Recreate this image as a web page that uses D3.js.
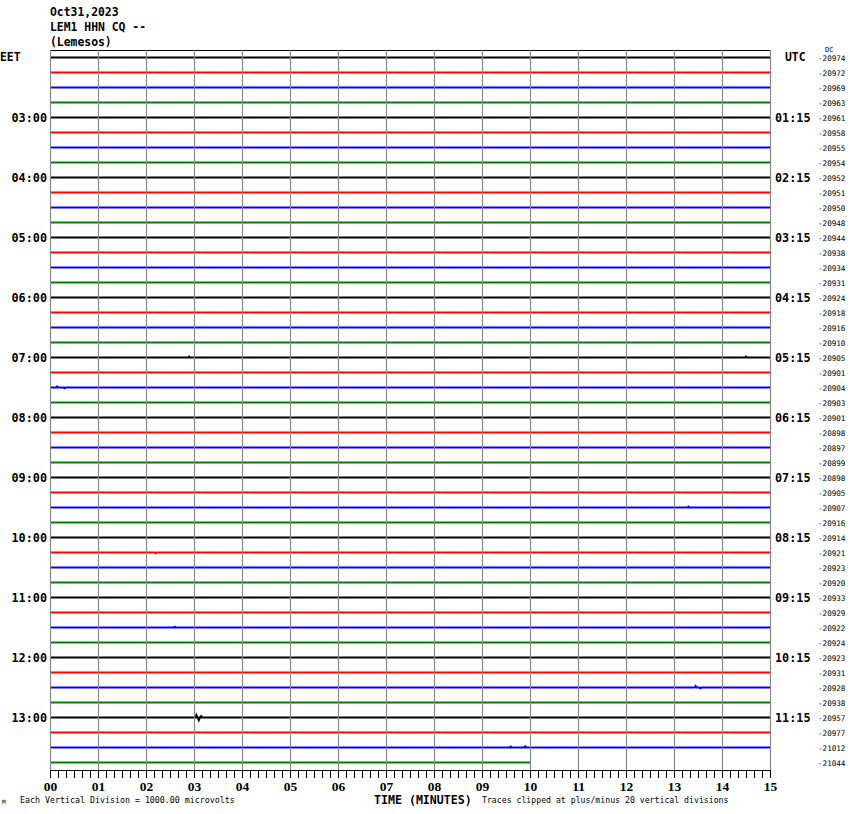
<!DOCTYPE html>
<html>
<head>
<meta charset="utf-8">
<script src="https://cdn.jsdelivr.net/npm/d3@7/dist/d3.min.js"></script>
<style>
  html, body { margin: 0; padding: 0; background: #fff; }
  svg { display: block; }
</style>
</head>
<body>
<script>
// ---------------- DATA ----------------
const headerLines = ["Oct31,2023", "LEM1 HHN CQ --", "(Lemesos)"];
const traceColors = ["#000000", "#ff0000", "#0000ff", "#008000"];
const traceCount = 48;
const lastTraceEndMinute = 10;
const leftHourLabels = ["03:00","04:00","05:00","06:00","07:00","08:00","09:00","10:00","11:00","12:00","13:00"];
const rightHourLabels = ["01:15","02:15","03:15","04:15","05:15","06:15","07:15","08:15","09:15","10:15","11:15"];
const dcValues = [
  -20974,-20972,-20969,-20963,-20961,-20958,-20955,-20954,
  -20952,-20951,-20950,-20948,-20944,-20938,-20934,-20931,
  -20924,-20918,-20916,-20910,-20905,-20901,-20904,-20903,
  -20901,-20898,-20897,-20899,-20898,-20905,-20907,-20916,
  -20914,-20921,-20923,-20920,-20933,-20929,-20922,-20924,
  -20923,-20931,-20928,-20938,-20957,-20977,-21012,-21044
];
const minuteTicks = d3.range(0, 16);
// notable small excursions: [trace, minute, offset in divisions (up +)]
const traceEvents = [
  [22, 0.15, 0.5], [22, 0.3, -0.3],
  [42, 13.45, 0.7], [42, 13.55, -0.4],
  [44, 3.05, 1.1], [44, 3.1, -1.2], [44, 3.15, 0.6],
  [46, 9.6, 0.4], [46, 9.9, 0.5],
  [20, 2.9, 0.4], [20, 14.5, 0.4],
  [30, 13.3, 0.4], [33, 2.2, -0.3], [38, 2.6, 0.3]
];
const bottomLeftNote = "Each Vertical Division = 1000.00 microvolts";
const bottomRightNote = "Traces clipped at plus/minus 20 vertical divisions";
const axisTitle = "TIME (MINUTES)";

// ---------------- CHART ----------------
const W = 850, H = 814;
const svg = d3.select("body").append("svg").attr("width", W).attr("height", H);

const x = d3.scaleLinear().domain([0, 15]).range([50, 770]);
const y = d3.scaleLinear().domain([0, traceCount - 1]).range([57.5, 762.5]);
const amp = d3.scaleLinear().domain([-1, 1]).range([2, -2]);

const mono = "'DejaVu Sans Mono', monospace";

// header
svg.append("g").selectAll("text").data(headerLines).join("text")
  .attr("x", 50).attr("y", (d, i) => 16 + i * 15)
  .attr("font-family", mono).attr("font-weight", "bold").attr("font-size", 11.4)
  .text(d => d);

// top frame line
svg.append("line").attr("x1", x(0)).attr("x2", x(15)).attr("y1", 50.5).attr("y2", 50.5)
  .attr("stroke", "#000").attr("stroke-width", 1.2);

// traces
const line = d3.line().x(d => x(d[0])).y(d => d[1]);
const traces = d3.range(traceCount).map(i => {
  const end = i === traceCount - 1 ? lastTraceEndMinute : 15;
  const ev = traceEvents.filter(e => e[0] === i && e[1] <= end).sort((a, b) => a[1] - b[1]);
  const pts = [[0, y(i)]];
  ev.forEach(e => {
    pts.push([e[1] - 0.02, y(i)]);
    pts.push([e[1], y(i) + amp(e[2])]);
    pts.push([e[1] + 0.02, y(i)]);
  });
  pts.push([end, y(i)]);
  return { i, pts };
});
svg.append("g").selectAll("path").data(traces).join("path")
  .attr("d", d => line(d.pts))
  .attr("fill", "none")
  .attr("stroke", d => traceColors[d.i % 4])
  .attr("stroke-width", 2.2);

// vertical grid lines
svg.append("g").selectAll("line").data(minuteTicks).join("line")
  .attr("x1", d => x(d) + 0.5).attr("x2", d => x(d) + 0.5)
  .attr("y1", 50).attr("y2", 770)
  .attr("stroke", "#888").attr("stroke-width", 1.2);

// bottom axis
const axis = d3.axisBottom(x)
  .tickValues(d3.range(0, 91).map(d => d / 6))
  .tickSize(8).tickSizeOuter(0).tickPadding(3)
  .tickFormat(d => Math.abs(d - Math.round(d)) < 1e-6 ? d3.format("02d")(Math.round(d)) : "");
const gAxis = svg.append("g").attr("transform", "translate(0,770)").call(axis);
gAxis.select(".domain").attr("stroke", "#000").attr("stroke-width", 1.2);
gAxis.selectAll(".tick line").attr("stroke", "#000").attr("stroke-width", 1);
gAxis.selectAll(".tick text")
  .attr("font-family", "'Liberation Serif', serif").attr("font-weight", "bold")
  .attr("font-size", 13.5).attr("fill", "#000");

// time zone labels
svg.append("text").attr("x", 0).attr("y", 61)
  .attr("font-family", mono).attr("font-weight", "bold").attr("font-size", 11.4).text("EET");
svg.append("text").attr("x", 785).attr("y", 61)
  .attr("font-family", mono).attr("font-weight", "bold").attr("font-size", 11.4).text("UTC");

// hour labels
svg.append("g").selectAll("text").data(leftHourLabels).join("text")
  .attr("x", 47).attr("y", (d, k) => y(4 + 4 * k) + 4.5)
  .attr("text-anchor", "end")
  .attr("font-family", mono).attr("font-weight", "bold").attr("font-size", 11.8)
  .text(d => d);
svg.append("g").selectAll("text").data(rightHourLabels).join("text")
  .attr("x", 775).attr("y", (d, k) => y(4 + 4 * k) + 4.5)
  .attr("font-family", mono).attr("font-weight", "bold").attr("font-size", 11.8)
  .text(d => d);

// DC values
svg.append("text").attr("x", 825).attr("y", 52).attr("font-family", mono)
  .attr("font-size", 7).text("DC");
svg.append("g").selectAll("text").data(dcValues).join("text")
  .attr("x", 818).attr("y", (d, i) => y(i) + 3)
  .attr("font-family", mono).attr("font-size", 7.6)
  .text(d => d);

// bottom notes
svg.append("text").attr("x", 2).attr("y", 804).attr("font-family", mono)
  .attr("font-size", 6).text("M");
svg.append("text").attr("x", 20).attr("y", 803).attr("font-family", mono)
  .attr("font-size", 8.3).text(bottomLeftNote);
svg.append("text").attr("x", 374).attr("y", 804).attr("font-family", mono)
  .attr("font-weight", "bold").attr("font-size", 11.6).text(axisTitle);
svg.append("text").attr("x", 482).attr("y", 803).attr("font-family", mono)
  .attr("font-size", 8.2).text(bottomRightNote);
</script>
</body>
</html>
